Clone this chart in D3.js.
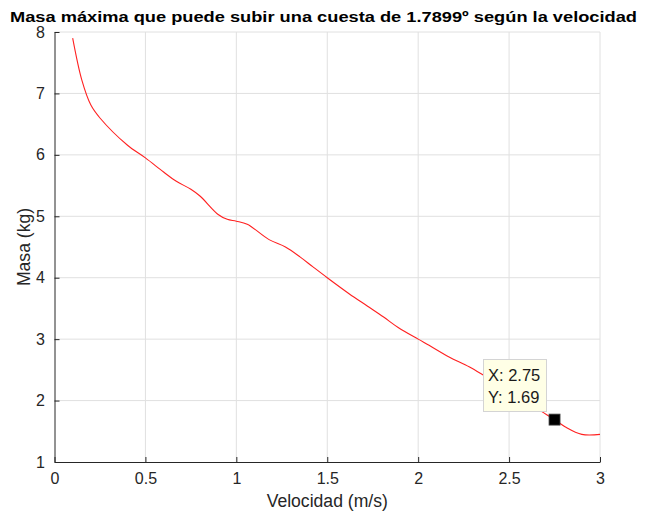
<!DOCTYPE html>
<html>
<head>
<meta charset="utf-8">
<script src="https://cdn.jsdelivr.net/npm/d3@7"></script>
<style>
  body { margin: 0; background: #fff; }
  text { font-family: "Liberation Sans", Arial, Helvetica, sans-serif; }
</style>
</head>
<body>
<svg id="chart" width="645" height="515"></svg>
<script>
// velocidad (m/s) y masa (kg)
var velocidad = [0.1, 0.15, 0.2, 0.25, 0.4, 0.5, 0.6, 0.67, 0.75, 0.8, 0.9, 0.95, 1.0, 1.06, 1.18, 1.27, 1.35, 1.42, 1.5, 1.62, 1.72, 1.81, 1.89, 2.0, 2.06, 2.17, 2.28, 2.36, 2.5, 2.6, 2.68, 2.75, 2.81, 2.9, 3.0];
var masa = [7.9, 7.22, 6.81, 6.6, 6.16, 5.95, 5.72, 5.57, 5.44, 5.33, 5.03, 4.95, 4.92, 4.87, 4.62, 4.5, 4.34, 4.18, 4.0, 3.74, 3.54, 3.36, 3.19, 3.0, 2.9, 2.71, 2.55, 2.41, 2.15, 1.97, 1.82, 1.69, 1.57, 1.45, 1.45];
var xTicks = [0, 0.5, 1, 1.5, 2, 2.5, 3];
var yTicks = [1, 2, 3, 4, 5, 6, 7, 8];
var marca = {x: 2.75, y: 1.69};

var svg = d3.select("#chart");
var mLeft = 54.5, mRight = 600, mTop = 32, mBottom = 462;

var x = d3.scaleLinear().domain([0, 3]).range([mLeft, mRight]);
var y = d3.scaleLinear().domain([1, 8]).range([mBottom, mTop]);
var axisColor = "#262626";
var gridColor = "#e0e0e0";

// grid
svg.append("g").selectAll("line").data(xTicks.slice(1)).enter().append("line")
  .attr("x1", function(d) { return x(d); }).attr("x2", function(d) { return x(d); })
  .attr("y1", mTop).attr("y2", mBottom)
  .attr("stroke", gridColor).attr("stroke-width", 1);
svg.append("g").selectAll("line").data(yTicks.slice(1)).enter().append("line")
  .attr("y1", function(d) { return y(d); }).attr("y2", function(d) { return y(d); })
  .attr("x1", mLeft).attr("x2", mRight)
  .attr("stroke", gridColor).attr("stroke-width", 1);

// axes
var xAxis = d3.axisBottom(x).tickValues(xTicks).tickSizeInner(-5).tickSizeOuter(0).tickPadding(11)
  .tickFormat(function(d) { return String(d); });
var gx = svg.append("g").attr("transform", "translate(0," + mBottom + ")").call(xAxis);
var yAxis = d3.axisLeft(y).tickValues(yTicks).tickSizeInner(-5).tickSizeOuter(0).tickPadding(9.5)
  .tickFormat(function(d) { return String(d); });
var gy = svg.append("g").attr("transform", "translate(" + mLeft + ",0)").call(yAxis);
[gx, gy].forEach(function(g) {
  g.select(".domain").attr("stroke", axisColor).attr("stroke-width", 1);
  g.selectAll(".tick line").attr("stroke", axisColor);
  g.selectAll(".tick text").attr("fill", axisColor).style("font-size", "16px")
    .style("font-family", "'Liberation Sans', Arial, sans-serif");
});

// curva
var line = d3.line()
  .x(function(d, i) { return x(velocidad[i]); })
  .y(function(d, i) { return y(masa[i]); })
  .curve(d3.curveCatmullRom.alpha(0.5));
svg.append("path").datum(masa)
  .attr("d", line)
  .attr("fill", "none")
  .attr("stroke", "#ff2020")
  .attr("stroke-width", 1.1);

// marcador y etiqueta
svg.append("rect")
  .attr("x", x(marca.x) - 5.5).attr("y", y(marca.y) - 5.5)
  .attr("width", 11).attr("height", 11)
  .attr("fill", "#000").attr("stroke", "#444").attr("stroke-width", 0.8);
var tip = svg.append("g");
tip.append("rect")
  .attr("x", 483.5).attr("y", 359.5).attr("width", 63).attr("height", 52)
  .attr("fill", "#ffffe6").attr("stroke", "#d4d4d4").attr("stroke-width", 1);
tip.append("text").attr("x", 488).attr("y", 381).attr("fill", "#1a1a1a")
  .style("font-size", "16.5px").text("X: " + marca.x.toFixed(2));
tip.append("text").attr("x", 488).attr("y", 403).attr("fill", "#1a1a1a")
  .style("font-size", "16.5px").text("Y: " + marca.y.toFixed(2));

// textos
svg.append("text")
  .attr("x", 10).attr("y", 21.5)
  .attr("textLength", 627).attr("lengthAdjust", "spacingAndGlyphs")
  .style("font-size", "15.5px").style("font-weight", "bold").attr("fill", "#000")
  .text("Masa máxima que puede subir una cuesta de 1.7899º según la velocidad");
svg.append("text")
  .attr("x", (mLeft + mRight) / 2).attr("y", 507)
  .attr("text-anchor", "middle").attr("fill", axisColor)
  .style("font-size", "17.6px")
  .text("Velocidad (m/s)");
svg.append("text")
  .attr("transform", "translate(30," + ((mTop + mBottom) / 2) + ") rotate(-90)")
  .attr("text-anchor", "middle").attr("fill", axisColor)
  .style("font-size", "17.6px")
  .text("Masa (kg)");
</script>
</body>
</html>
